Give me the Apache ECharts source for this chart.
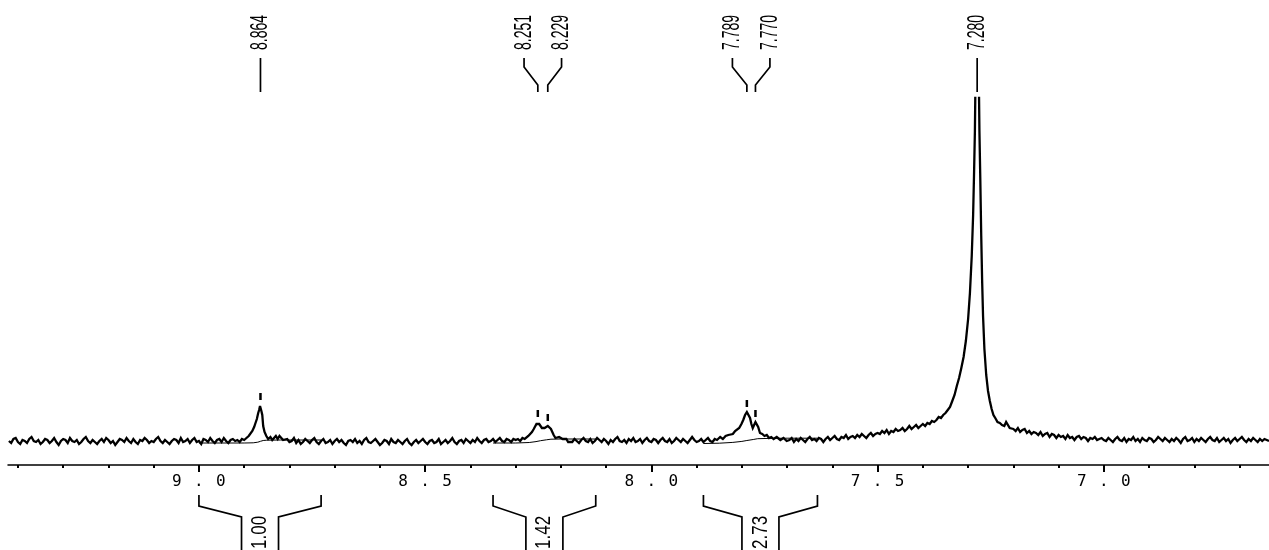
<!DOCTYPE html>
<html><head><meta charset="utf-8">
<script src="https://cdn.jsdelivr.net/npm/echarts@6/dist/echarts.min.js"></script>
<style>html,body{margin:0;padding:0;background:#fff;}#chart{width:1269px;height:550px;}</style>
</head><body><div id="chart"></div>
<script>
// 1H NMR spectrum, chemical shift (ppm) vs intensity (arbitrary units)
const spectrum = [
[9.420,0],[9.415,-2],[9.410,2],[9.405,3],[9.400,-1],[9.395,-3],[9.390,1],[9.385,0],[9.380,-2],[9.375,2],
[9.370,4],[9.365,0],[9.360,-1],[9.355,1],[9.350,-3],[9.345,-1],[9.340,2],[9.335,1],[9.330,-2],[9.325,0],
[9.320,3],[9.315,-1],[9.310,-4],[9.305,0],[9.300,2],[9.295,1],[9.290,-2],[9.285,3],[9.280,0],[9.275,-1],
[9.270,1],[9.265,-3],[9.260,-1],[9.255,2],[9.250,4],[9.245,0],[9.240,-2],[9.235,1],[9.230,-1],[9.225,-3],
[9.220,0],[9.215,2],[9.210,-1],[9.205,3],[9.200,1],[9.195,-2],[9.190,0],[9.185,-4],[9.180,-1],[9.175,2],
[9.170,1],[9.165,-1],[9.160,3],[9.155,0],[9.150,-2],[9.145,2],[9.140,-1],[9.135,-3],[9.130,1],[9.125,0],
[9.120,3],[9.115,1],[9.110,-2],[9.105,0],[9.100,-1],[9.095,2],[9.090,4],[9.085,0],[9.080,-2],[9.075,1],
[9.070,-1],[9.065,-3],[9.060,0],[9.055,2],[9.050,1],[9.045,-2],[9.040,3],[9.035,-1],[9.030,0],[9.025,2],
[9.020,-2],[9.015,1],[9.010,3],[9.005,-1],[9.000,0],[8.995,-3],[8.990,2],[8.985,1],[8.980,-1],[8.975,3],
[8.970,0],[8.965,-2],[8.960,1],[8.955,2],[8.950,-1],[8.945,3],[8.940,0],[8.935,-2],[8.930,1],[8.925,2],[8.920,0],
[8.915,1],[8.910,-1],[8.905,2],[8.900,1],[8.895,3],[8.890,5],[8.886,7],[8.882,10],[8.878,14],[8.875,18],[8.872,22],[8.869,28],[8.867,31],[8.865,35],[8.864,36],[8.862,30],[8.860,26],[8.858,15],[8.855,9],[8.851,5],[8.847,2],[8.842,4],[8.838,1],[8.834,3],[8.830,5],[8.826,2],[8.822,5],[8.818,3],[8.814,1],[8.810,3],
[8.805,2],[8.800,-1],[8.795,0],[8.790,3],[8.785,-2],[8.780,1],[8.775,-3],[8.770,-1],[8.765,2],[8.760,0],
[8.755,-2],[8.750,1],[8.745,3],[8.740,-1],[8.735,-3],[8.730,0],[8.725,2],[8.720,-2],[8.715,-1],[8.710,1],
[8.705,-3],[8.700,0],[8.695,2],[8.690,-1],[8.685,1],[8.680,-2],[8.675,-4],[8.670,0],[8.665,1],[8.660,-1],
[8.655,2],[8.650,-2],[8.645,0],[8.640,-3],[8.635,1],[8.630,3],[8.625,-1],[8.620,-2],[8.615,0],[8.610,2],
[8.605,-1],[8.600,-4],[8.595,-2],[8.590,1],[8.585,0],[8.580,-3],[8.575,2],[8.570,-1],[8.565,-2],[8.560,1],
[8.555,-1],[8.550,-3],[8.545,0],[8.540,2],[8.535,-2],[8.530,-4],[8.525,-1],[8.520,1],[8.515,-2],[8.510,0],
[8.505,2],[8.500,-1],[8.495,-3],[8.490,0],[8.485,1],[8.480,-2],[8.475,-1],[8.470,2],[8.465,-3],[8.460,-1],
[8.455,1],[8.450,-2],[8.445,0],[8.440,3],[8.435,-1],[8.430,-3],[8.425,0],[8.420,1],[8.415,-2],[8.410,2],
[8.405,0],[8.400,-2],[8.395,1],[8.390,-1],[8.385,3],[8.380,0],[8.375,-2],[8.370,1],[8.365,2],[8.360,-1],
[8.355,0],[8.350,2],[8.345,-1],[8.340,1],[8.335,3],[8.330,0],[8.325,-1],[8.320,2],[8.315,1],[8.310,-1],[8.305,2],[8.300,1],
[8.295,2],[8.290,0],[8.285,3],[8.280,2],[8.276,4],[8.272,5],[8.268,7],[8.264,9],[8.260,12],[8.257,14],[8.254,17],[8.251,19],[8.248,17],[8.245,15],[8.242,13],[8.239,12],[8.236,13],[8.233,14],[8.229,15],[8.226,13],[8.222,12],[8.219,9],[8.216,6],[8.212,3],[8.208,1],[8.204,4],[8.200,5],[8.196,2],[8.192,0],[8.188,2],[8.184,-1],
[8.180,1],[8.175,-1],[8.170,2],[8.165,0],[8.160,-2],[8.155,1],[8.150,3],[8.145,0],[8.140,-1],[8.135,2],
[8.130,-2],[8.125,0],[8.120,3],[8.115,1],[8.110,-1],[8.105,2],[8.100,0],[8.095,-3],[8.090,1],[8.085,-1],
[8.080,2],[8.075,4],[8.070,0],[8.065,-1],[8.060,1],[8.055,-2],[8.050,2],[8.045,0],[8.040,3],[8.035,-1],
[8.030,0],[8.025,2],[8.020,-2],[8.015,1],[8.010,3],[8.005,0],[8.000,-1],[7.995,2],[7.990,1],[7.985,-2],
[7.980,1],[7.975,3],[7.970,0],[7.965,-1],[7.960,2],[7.955,-2],[7.950,0],[7.945,3],[7.940,1],[7.935,-1],
[7.930,2],[7.925,0],[7.920,-2],[7.915,1],[7.910,4],[7.905,1],[7.900,-1],[7.895,0],[7.890,2],[7.885,-1],
[7.880,1],[7.875,3],[7.870,0],[7.865,-1],[7.860,2],
[7.855,1],[7.848,4],[7.842,2],[7.836,5],[7.830,6],[7.826,8],[7.820,7],[7.815,10],[7.811,11],[7.806,13],[7.801,17],[7.797,21],[7.793,26],[7.789,29],[7.786,27],[7.782,23],[7.779,17],[7.776,13],[7.773,16],[7.770,19],[7.767,18],[7.764,14],[7.760,8],[7.755,7],[7.750,5],[7.745,6],[7.740,3],[7.735,4],[7.730,2],[7.723,4],[7.715,1],[7.708,3],[7.701,0],
[7.695,1],[7.690,3],[7.685,-1],[7.680,2],[7.675,0],[7.670,3],[7.665,1],[7.660,-1],[7.655,2],[7.650,4],
[7.645,1],[7.640,2],[7.635,0],[7.630,3],[7.625,2],[7.620,-1],[7.615,2],[7.610,4],[7.605,1],[7.600,3],
[7.595,5],[7.590,2],[7.585,1],[7.580,4],[7.575,3],[7.570,6],[7.565,2],[7.560,4],[7.555,5],[7.550,3],
[7.545,6],[7.540,4],[7.535,7],[7.530,5],[7.525,3],[7.520,6],[7.515,8],[7.510,5],[7.505,7],[7.500,8],
[7.495,7],[7.490,10],[7.485,8],[7.480,11],[7.475,7],[7.470,10],[7.465,9],[7.460,12],[7.455,10],[7.450,11],
[7.445,13],[7.440,10],[7.435,12],[7.430,15],[7.425,12],[7.420,14],[7.415,16],[7.410,13],[7.405,15],[7.400,17],
[7.395,15],[7.390,18],[7.385,17],[7.380,20],[7.375,19],[7.370,21],[7.365,24],[7.360,23],[7.355,26],[7.350,28],
[7.345,31],[7.340,34],[7.335,40],[7.330,46],[7.325,55],[7.320,63],[7.315,73],[7.310,84],[7.305,100],[7.300,122],[7.296,148],[7.292,185],[7.289,225],[7.287,265],[7.285,310],[7.284,350],[7.282,400],[7.280,420],[7.278,400],[7.276,350],[7.275,310],[7.273,260],[7.271,205],[7.269,160],[7.267,125],[7.264,92],[7.260,66],[7.256,50],[7.252,40],[7.248,32],[7.244,26],[7.240,23],[7.235,19],[7.230,18],[7.225,16],[7.220,15],[7.216,19],[7.212,17],[7.208,13],[7.204,14],
[7.200,12],[7.195,10],[7.190,13],[7.185,9],[7.180,11],[7.175,12],[7.170,8],[7.165,10],[7.160,7],[7.155,9],
[7.150,8],[7.145,6],[7.140,9],[7.135,5],[7.130,7],[7.125,8],[7.120,4],[7.115,7],[7.110,6],[7.105,3],
[7.100,6],[7.095,4],[7.090,5],[7.085,2],[7.080,6],[7.075,3],[7.070,4],[7.065,1],[7.060,4],[7.055,5],
[7.050,2],[7.045,4],[7.040,3],[7.035,0],[7.030,3],[7.025,2],[7.020,4],[7.015,1],[7.010,2],[7.005,3],[7.000,1],
[6.995,0],[6.990,3],[6.985,1],[6.980,-1],[6.975,2],[6.970,4],[6.965,1],[6.960,0],[6.955,3],[6.950,-1],
[6.945,2],[6.940,1],[6.935,4],[6.930,0],[6.925,2],[6.920,-1],[6.915,3],[6.910,1],[6.905,0],[6.900,3],
[6.895,2],[6.890,-1],[6.885,1],[6.880,4],[6.875,2],[6.870,0],[6.865,3],[6.860,1],[6.855,-1],[6.850,2],
[6.845,0],[6.840,3],[6.835,1],[6.830,-2],[6.825,2],[6.820,4],[6.815,0],[6.810,1],[6.805,3],[6.800,-1],
[6.795,2],[6.790,0],[6.785,3],[6.780,1],[6.775,-1],[6.770,2],[6.765,4],[6.760,1],[6.755,0],[6.750,3],
[6.745,-1],[6.740,1],[6.735,3],[6.730,0],[6.725,2],[6.720,-2],[6.715,1],[6.710,3],[6.705,0],[6.700,2],
[6.695,4],[6.690,1],[6.685,-1],[6.680,2],[6.675,0],[6.670,3],[6.665,1],[6.660,-1],[6.655,2],[6.650,0],
[6.645,2],[6.640,1],[6.635,0]
];

// integral curves
const integral1 = [[9.000,-2],[8.940,-2],[8.900,-2],[8.880,-1.8],[8.870,-1.2],[8.864,-0.3],[8.858,0.5],[8.850,0.8],[8.820,1],[8.780,1],[8.730,1]];
const integral2 = [[8.350,-2],[8.300,-2],[8.270,-1.5],[8.255,-0.6],[8.245,0.3],[8.232,1.2],[8.222,1.8],[8.200,2],[8.160,2],[8.123,2]];
const integral3 = [[7.885,-2.5],[7.850,-2.2],[7.820,-1.4],[7.800,-0.4],[7.789,0.5],[7.775,1.5],[7.765,2.3],[7.740,2.6],[7.700,2.8],[7.633,2.8]];

// picked peaks
const peakShifts  = [8.864, 8.251, 8.229, 7.789, 7.770, 7.280];
const peakHeights = [36, 19, 15, 29, 19, 420];
const peakGroups  = [0, 1, 1, 2, 2, 3];

// integration regions and values
const intRegions = [[9.000, 8.730], [8.350, 8.123], [7.885, 7.633]];
const intValues  = ['1.00', '1.42', '2.73'];

// axis ticks / labels
const majorTicks = [7.0, 7.5, 8.0, 8.5, 9.0];
const minorTicks = [6.7, 6.8, 6.9, 7.1, 7.2, 7.3, 7.4, 7.6, 7.7, 7.8, 7.9, 8.1, 8.2, 8.3, 8.4, 8.6, 8.7, 8.8, 8.9, 9.1, 9.2, 9.3, 9.4];

const xMin = 6.635, xMax = 9.422, yMin = -24, yMax = 343;

const chart = echarts.init(document.getElementById('chart'), null, {renderer: 'canvas'});

function peakRender(params, api) {
  const i = params.dataIndex;
  const members = [];
  peakGroups.forEach((g, j) => { if (g === peakGroups[i]) members.push(j); });
  const k = members.indexOf(i), n = members.length;
  const px = api.coord([peakShifts[i], 0])[0];
  let cx = 0;
  members.forEach(m => { cx += api.coord([peakShifts[m], 0])[0]; });
  cx /= n;
  const lx = n === 1 ? px : cx + (k - (n - 1) / 2) * 37.5;
  const top = api.coord([xMax, yMax])[1];
  const y0 = top - 40, y1 = top - 31, y2 = top - 13, y3 = top - 6;
  const pts = n === 1 ? [[px, y0], [px, y3]] : [[lx, y0], [lx, y1], [px, y2], [px, y3]];
  const children = [
    {type: 'polyline', shape: {points: pts}, style: {stroke: '#000', lineWidth: 1.7, fill: null}},
    {type: 'text', x: lx, y: y0 - 8, rotation: Math.PI / 2, scaleY: 1.75,
     style: {text: peakShifts[i].toFixed(3), fill: '#000', font: '14px "Liberation Sans", Arial, sans-serif', align: 'left', verticalAlign: 'middle'}}
  ];
  if (peakHeights[i] < yMax) {
    const py = api.coord([peakShifts[i], peakHeights[i]])[1];
    children.push({type: 'line', shape: {x1: px, y1: py - 12, x2: px, y2: py - 5}, style: {stroke: '#000', lineWidth: 2.5}});
  }
  return {type: 'group', children};
}

function intRender(params, api) {
  const i = params.dataIndex;
  const r = intRegions[i];
  const p1 = api.coord([r[0], yMin]);
  const x1 = p1[0], axisY = p1[1];
  const x2 = api.coord([r[1], yMin])[0];
  const cx = (x1 + x2) / 2, hw = 18.5;
  const tY = axisY + 30, mY = axisY + 41, iY = axisY + 52, bY = axisY + 95;
  return {type: 'group', children: [
    {type: 'polyline', shape: {points: [[x1, tY], [x1, mY], [cx - hw, iY], [cx - hw, bY]]}, style: {stroke: '#000', lineWidth: 1.7, fill: null}},
    {type: 'polyline', shape: {points: [[x2, tY], [x2, mY], [cx + hw, iY], [cx + hw, bY]]}, style: {stroke: '#000', lineWidth: 1.7, fill: null}},
    {type: 'text', x: cx, y: axisY + 84, rotation: Math.PI / 2, scaleY: 1.3,
     style: {text: intValues[i], fill: '#000', font: '17px "Liberation Sans", Arial, sans-serif', align: 'left', verticalAlign: 'middle'}}
  ]};
}

const option = {
  animation: false,
  backgroundColor: '#fff',
  grid: {left: 8, right: 0, top: 98, bottom: 85, containLabel: false, outerBoundsMode: 'none'},
  xAxis: [
    {type: 'value', inverse: true, min: xMin, max: xMax, position: 'bottom',
     axisLine: {show: true, onZero: false, lineStyle: {color: '#000', width: 1.5}},
     axisTick: {show: true, customValues: majorTicks, length: 7, lineStyle: {color: '#000', width: 2}},
     axisLabel: {show: true, customValues: majorTicks, margin: 9,
       formatter: v => Number(v).toFixed(1).split('').map(c => '{c|' + c + '}').join(''),
       rich: {c: {width: 22, align: 'center', fontSize: 16, fontFamily: '"DejaVu Sans Mono", monospace', color: '#000'}}},
     splitLine: {show: false}},
    {type: 'value', inverse: true, min: xMin, max: xMax, position: 'bottom',
     axisLine: {show: false, onZero: false},
     axisTick: {show: true, customValues: minorTicks, length: 3, lineStyle: {color: '#000', width: 2}},
     axisLabel: {show: false}, splitLine: {show: false}}
  ],
  yAxis: {type: 'value', min: yMin, max: yMax, show: false},
  series: [
    {type: 'line', data: integral1, showSymbol: false, symbol: 'none', lineStyle: {color: '#000', width: 1}, z: 2, silent: true},
    {type: 'line', data: integral2, showSymbol: false, symbol: 'none', lineStyle: {color: '#000', width: 1}, z: 2, silent: true},
    {type: 'line', data: integral3, showSymbol: false, symbol: 'none', lineStyle: {color: '#000', width: 1}, z: 2, silent: true},
    {type: 'line', data: spectrum, showSymbol: false, symbol: 'none', sampling: null, lineStyle: {color: '#000', width: 2.3, join: 'miter', miterLimit: 3}, z: 3, silent: true},
    {type: 'custom', renderItem: peakRender, data: peakShifts.map((p, i) => [p, peakHeights[i]]), clip: false, z: 4, silent: true},
    {type: 'custom', renderItem: intRender, data: intRegions.map(r => [r[0], 0]), clip: false, z: 4, silent: true}
  ]
};
chart.setOption(option);
</script>
</body></html>
